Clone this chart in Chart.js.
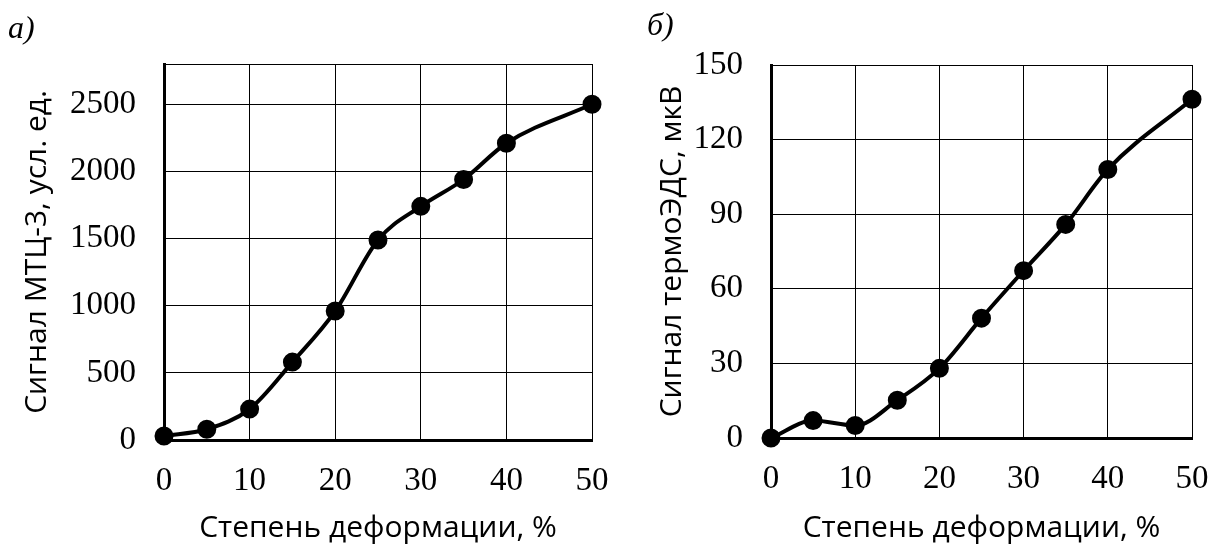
<!DOCTYPE html>
<html>
<head>
<meta charset="utf-8">
<script src="https://cdn.jsdelivr.net/npm/chart.js@4.4.1/dist/chart.umd.min.js"></script>
<style>
    body { margin: 0; background: #fff; }
    #wrap { position: relative; width: 1213px; height: 549px; overflow: hidden; }
    .box { position: absolute; top: 0; height: 549px; }
    .panel { position: absolute; font-family: "Liberation Serif", serif; font-style: italic; font-size: 32px; color: #000; }
</style>
</head>
<body>
<div id="wrap">
    <div class="box" style="left:0;width:620px"><canvas id="mtc-chart"></canvas></div>
    <div class="box" style="left:606px;width:607px"><canvas id="emf-chart"></canvas></div>
    <span class="panel" style="left:8px;top:9px">а)</span>
    <span class="panel" style="left:647px;top:6px">б)</span>
</div>
<script>
var deformation = [0, 5, 10, 15, 20, 25, 30, 35, 40, 50];
var mtcValues = [30, 80, 230, 580, 960, 1490, 1740, 1940, 2210, 2500];
var emfValues = [0, 7, 5, 15.2, 28, 48.2, 67.3, 85.9, 108, 136.2];
var xTicks = [0, 10, 20, 30, 40, 50];
var mtcTicks = [0, 500, 1000, 1500, 2000, 2500];
var emfTicks = [0, 30, 60, 90, 120, 150];

function points(values) {
    return deformation.map(function (x, i) { return {x: x, y: values[i]}; });
}

function makeChart(id, values, yTicks, yMax, yTitle, opts) {
    var ctx = document.getElementById(id).getContext('2d');
    return new Chart(ctx, {
        type: 'line',
        data: {
            datasets: [{
                data: points(values),
                borderColor: '#000',
                backgroundColor: '#000',
                borderWidth: 4,
                pointRadius: 7.5,
                pointHoverRadius: 7.5,
                cubicInterpolationMode: 'monotone',
                clip: false
            }]
        },
        options: {
            responsive: true,
            maintainAspectRatio: false,
            animation: false,
            layout: {padding: {top: opts.top, right: opts.right, left: 0, bottom: 0}},
            plugins: {legend: {display: false}, tooltip: {enabled: false}},
            scales: {
                x: {
                    type: 'linear', min: 0, max: 50,
                    afterBuildTicks: function (s) { s.ticks = xTicks.map(function (v) { return {value: v}; }); },
                    afterFit: function (s) {
                        s.height = opts.xh;
                        s.paddingLeft = 0;
                        s.paddingRight = 0;
                    },
                    grid: {color: '#000', lineWidth: 1, drawTicks: false},
                    border: {color: '#000', width: 3},
                    ticks: {color: '#000', padding: 22, font: {family: 'Liberation Serif', size: 33}},
                    title: {display: true, text: 'Степень деформации, %', color: '#000',
                        font: {family: 'Open Sans', size: 30}, padding: {bottom: 3}}
                },
                y: {
                    min: 0, max: yMax,
                    afterBuildTicks: function (s) {
                        var t = yTicks.map(function (v) { return {value: v}; });
                        if (yTicks[yTicks.length - 1] !== yMax) t.push({value: yMax});
                        s.ticks = t;
                    },
                    afterFit: function (s) {
                        s.width = opts.yw;
                        s.paddingTop = 0;
                        s.paddingBottom = 0;
                    },
                    grid: {color: '#000', lineWidth: 1, drawTicks: false},
                    border: {color: '#000', width: 3},
                    ticks: {color: '#000', padding: 28, font: {family: 'Liberation Serif', size: 33},
                        callback: function (v) { return yTicks.indexOf(v) >= 0 ? v : ''; }},
                    title: {display: true, text: yTitle, color: '#000',
                        font: {family: 'Open Sans', size: 30}, padding: {top: opts.tp}}
                }
            }
        }
    });
}

var mtcChart = makeChart('mtc-chart', mtcValues, mtcTicks, 2800, 'Сигнал МТЦ-3, усл. ед.',
    {top: 64, right: 28, xh: 109, yw: 164, tp: 19});
var emfChart = makeChart('emf-chart', emfValues, emfTicks, 150, 'Сигнал термоЭДС, мкВ',
    {top: 65, right: 21, xh: 111, yw: 165, tp: 48});
</script>
</body>
</html>
